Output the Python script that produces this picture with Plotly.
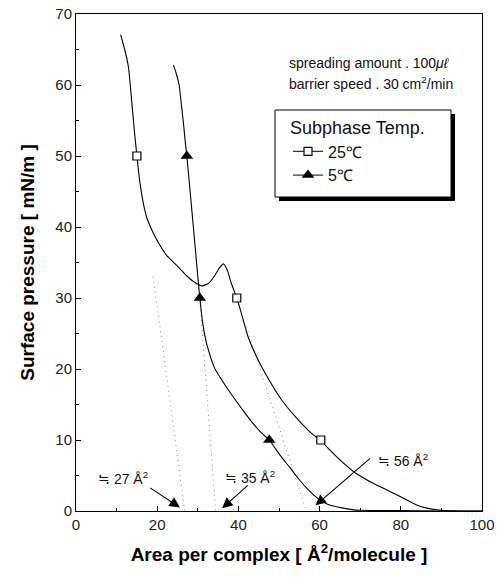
import plotly.graph_objects as go

# ---- data ----
area_25 = [11.0, 12.0, 12.9, 13.6, 14.3, 15.0, 15.8, 16.6, 17.5, 19.0, 20.5, 22.3, 24.8, 27.3, 29.5,
           31.0, 32.5, 34.0, 35.3, 36.3, 37.2, 38.3, 39.6, 40.5, 42.4, 44.5, 46.6, 50.7, 54.8, 58.1,
           60.3, 62.5, 65.0, 68.5, 73.2, 79.0, 83.9, 86.4, 90.0, 95.0, 100.0]
pres_25 = [67.1, 65.0, 62.6, 58.5, 54.0, 50.0, 46.0, 43.3, 41.2, 39.2, 37.6, 36.0, 34.6, 33.1, 32.1,
           31.7, 32.0, 33.0, 34.2, 34.8, 34.0, 32.0, 30.0, 28.3, 24.5, 21.7, 19.4, 15.6, 12.8, 10.9,
           9.9, 8.6, 7.2, 5.5, 3.9, 2.3, 0.85, 0.4, 0.1, 0.0, 0.0]

area_5 = [24.0, 24.6, 25.4, 25.9, 26.4, 27.0, 27.3, 28.3, 29.3, 30.0, 30.5, 31.2, 32.0, 32.8, 34.0,
          35.5, 37.0, 39.3, 41.5, 43.5, 45.5, 47.6, 50.2, 52.7, 55.0, 57.2, 59.7, 61.8, 63.4, 65.8,
          68.0, 70.0, 80.0, 90.0, 100.0]
pres_5 = [62.8, 61.8, 60.0, 57.5, 55.0, 51.5, 50.0, 43.8, 37.5, 33.0, 30.0, 26.5, 24.0, 22.3, 20.3,
          18.8, 17.5, 15.6, 13.9, 12.4, 11.1, 10.0, 7.9, 6.1, 4.4, 3.0, 1.7, 1.0, 0.7, 0.4,
          0.2, 0.1, 0.05, 0.0, 0.0]

mark_area_25 = [15.0, 39.6, 60.3]
mark_pres_25 = [50.0, 30.0, 10.0]
mark_area_5 = [27.3, 30.5, 47.6]
mark_pres_5 = [50.0, 30.0, 10.0]

# extrapolation (dotted) lines: limiting areas
extrap_area = [[19.0, 26.8], [30.6, 34.4], [42.0, 56.7]]
extrap_pres = [[33.0, 0.0], [29.0, 0.0], [26.0, 0.0]]

# annotations: label text, label position, arrow tail, arrow tip
ann_text = ["≒ 27 Å<sup>2</sup>", "≒ 35 Å<sup>2</sup>", "≒ 56 Å<sup>2</sup>"]
ann_pos = [(11.5, 4.7), (42.8, 4.8), (80.6, 7.2)]
ann_tail = [(17.9, 3.4), (42.7, 3.8), (72.8, 7.6)]
ann_tip = [(25.6, 0.5), (36.0, 0.4), (59.0, 0.8)]

x_ticks = [0, 20, 40, 60, 80, 100]
y_ticks = [0, 10, 20, 30, 40, 50, 60, 70]

FONT = "Liberation Sans, Arial, sans-serif"

fig = go.Figure()

for xs, ys in zip(extrap_area, extrap_pres):
    fig.add_trace(go.Scatter(x=xs, y=ys, mode="lines", showlegend=False, hoverinfo="skip",
                             line=dict(color="#8a8a8a", width=1, dash="1px,4px")))

# curves
fig.add_trace(go.Scatter(x=area_25, y=pres_25, mode="lines", showlegend=False,
                         line=dict(color="black", width=1.1, shape="spline", smoothing=0.5)))
fig.add_trace(go.Scatter(x=area_5, y=pres_5, mode="lines", showlegend=False,
                         line=dict(color="black", width=1.1, shape="spline", smoothing=0.5)))


def gapped(vals):
    out = []
    for i, v in enumerate(vals):
        if i:
            out.append(None)
        out.append(v)
    return out


fig.add_trace(go.Scatter(x=gapped(mark_area_25), y=gapped(mark_pres_25), mode="lines+markers",
                         name="25℃", connectgaps=False,
                         line=dict(color="black", width=1),
                         marker=dict(symbol="square", size=8, color="white",
                                     line=dict(color="black", width=1.2))))
fig.add_trace(go.Scatter(x=gapped(mark_area_5), y=gapped(mark_pres_5), mode="lines+markers",
                         name="5℃", connectgaps=False,
                         line=dict(color="black", width=1),
                         marker=dict(symbol="triangle-up", size=11, color="black",
                                     line=dict(color="black", width=0))))

annotations = []
for t, (tx, ty), (ax, ay), (hx, hy) in zip(ann_text, ann_pos, ann_tail, ann_tip):
    annotations.append(dict(x=tx, y=ty, text=t, showarrow=False, xref="x", yref="y",
                            font=dict(family=FONT, size=14, color="#111")))
    annotations.append(dict(x=hx, y=hy, ax=ax, ay=ay, axref="x", ayref="y", xref="x", yref="y",
                            text="", showarrow=True, arrowhead=2, arrowsize=1.9,
                            arrowwidth=1.1, arrowcolor="black"))

annotations.append(dict(x=0.520, y=0.902, xref="paper", yref="paper", xanchor="left",
                        yanchor="middle", showarrow=False,
                        text="spreading amount . 100<i>μℓ</i>",
                        font=dict(family=FONT, size=14, color="#111")))
annotations.append(dict(x=0.520, y=0.861, xref="paper", yref="paper", xanchor="left",
                        yanchor="middle", showarrow=False,
                        text="barrier speed . 30 cm<sup>2</sup>/min",
                        font=dict(family=FONT, size=14, color="#111")))

L, R, T, B = 76, 16, 14, 68
W, H = 498, 579
pw, ph = W - L - R, H - T - B


def px_x(p):
    return (p - L) / pw


def px_y(p):
    return (H - B - p) / ph


shapes = [
    dict(type="rect", xref="paper", yref="paper", layer="above",
         x0=px_x(279), x1=px_x(455), y0=px_y(201), y1=px_y(114),
         fillcolor="black", line=dict(width=0)),
    dict(type="rect", xref="paper", yref="paper", layer="above",
         x0=px_x(275), x1=px_x(451), y0=px_y(197), y1=px_y(110),
         fillcolor="white", line=dict(color="black", width=1)),
]

axis_common = dict(ticks="inside", ticklen=5, tickwidth=1, tickcolor="black",
                   showline=True, linecolor="black", linewidth=1, mirror=True,
                   showgrid=False, zeroline=False, automargin=False,
                   tickfont=dict(family=FONT, size=15, color="#222"))

fig.update_layout(
    width=W, height=H, margin=dict(l=L, r=R, t=T, b=B, autoexpand=False),
    paper_bgcolor="white", plot_bgcolor="white",
    font=dict(family=FONT, color="#111"),
    showlegend=True,
    legend=dict(x=px_x(288), y=px_y(111), xanchor="left", yanchor="top",
                bgcolor="rgba(0,0,0,0)", borderwidth=0,
                font=dict(family=FONT, size=16, color="#111"),
                title=dict(text="Subphase Temp.", font=dict(family=FONT, size=18, color="#111")),
                itemwidth=30, tracegroupgap=0),
    annotations=annotations,
    shapes=shapes,
    xaxis=dict(range=[0, 100], tickvals=x_ticks,
               minor=dict(dtick=10, ticks="inside", ticklen=3, tickcolor="black"),
               title=dict(text="<b>Area per complex [ Å<sup>2</sup>/molecule ]</b>",
                          font=dict(family=FONT, size=19, color="black")),
               **axis_common),
    yaxis=dict(range=[0, 70], tickvals=y_ticks,
               minor=dict(dtick=5, ticks="inside", ticklen=3, tickcolor="black"),
               title=dict(text="<b>Surface pressure [ mN/m ]</b>",
                          font=dict(family=FONT, size=19, color="black")),
               **axis_common),
)

fig.write_html("out.html")
